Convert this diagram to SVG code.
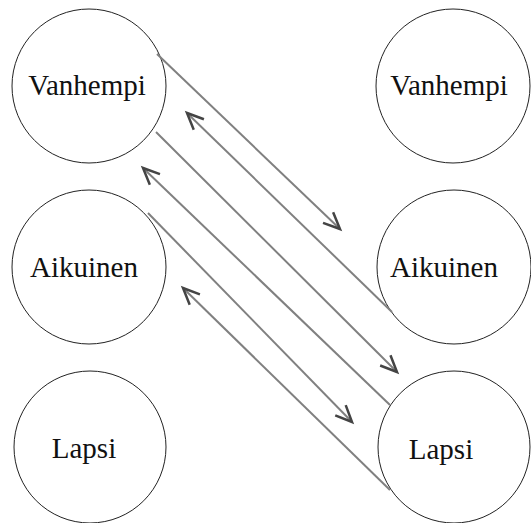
<svg xmlns="http://www.w3.org/2000/svg" width="531" height="523" viewBox="0 0 531 523">
<style>
.node circle{fill:#fff;stroke:#222;stroke-width:1}
.node text{font-family:"Liberation Serif","Times New Roman",serif;font-size:29px;fill:#111;text-anchor:middle}
.conn line{stroke:#808080;stroke-width:2;marker-end:url(#arr)}
</style>
<defs>
<marker id="arr" markerUnits="userSpaceOnUse" viewBox="-20 -10 22 20" refX="0" refY="0" markerWidth="22" markerHeight="20" orient="auto" overflow="visible">
<path d="M -16.5 -7.3 L 0 0 L -16.5 7.3" fill="none" stroke="#444" stroke-width="2.5" stroke-linejoin="miter"/>
</marker>
</defs>
<rect width="531" height="523" fill="#fff"/>
<g id="vanhempi-l" class="node"><circle cx="89" cy="86" r="77"/><text x="87" y="95">Vanhempi</text></g>
<g id="aikuinen-l" class="node"><circle cx="89" cy="267" r="77"/><text x="84" y="277">Aikuinen</text></g>
<g id="lapsi-l" class="node"><circle cx="90" cy="447" r="76"/><text x="84" y="458">Lapsi</text></g>
<g id="vanhempi-r" class="node"><circle cx="453" cy="86" r="77"/><text x="449" y="95">Vanhempi</text></g>
<g id="aikuinen-r" class="node"><circle cx="454" cy="267" r="77"/><text x="444" y="277">Aikuinen</text></g>
<g id="lapsi-r" class="node"><circle cx="454" cy="447" r="76"/><text x="441" y="459">Lapsi</text></g>
<g id="connectors" class="conn">
<line x1="157" y1="54" x2="340" y2="229"/>
<line x1="392" y1="312" x2="187" y2="113"/>
<line x1="156" y1="132" x2="397" y2="372"/>
<line x1="390" y1="405" x2="143" y2="168"/>
<line x1="148" y1="213" x2="352" y2="422"/>
<line x1="390" y1="490" x2="183" y2="288"/>
</g>
</svg>
